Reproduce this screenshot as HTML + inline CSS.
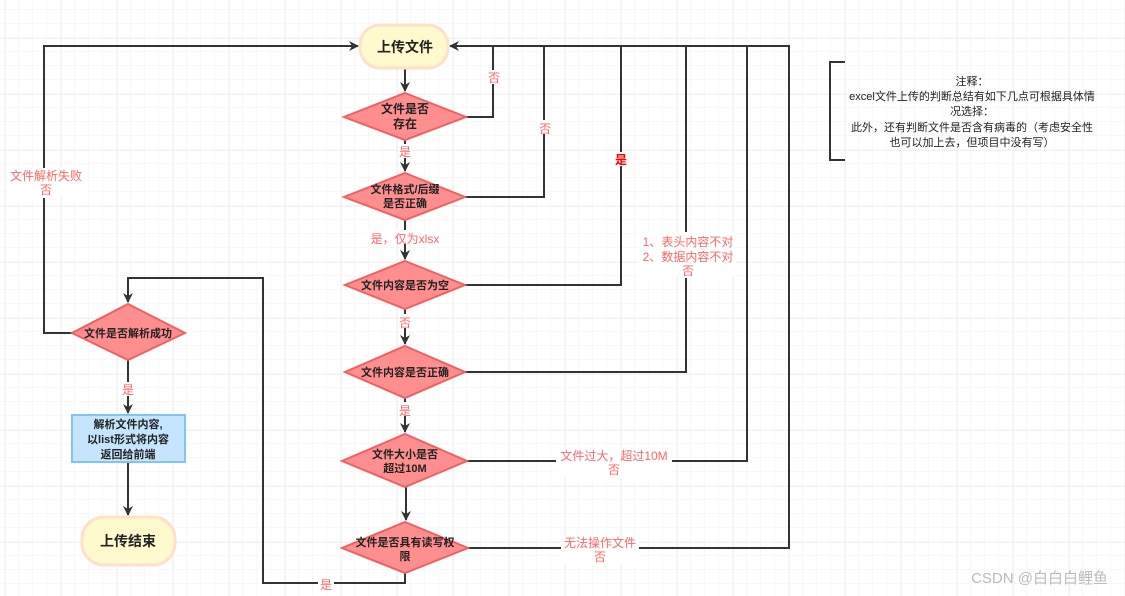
<!DOCTYPE html>
<html><head><meta charset="utf-8"><style>
html,body{margin:0;padding:0;background:#fff;}
svg{display:block;}
text{font-family:"Liberation Sans","Noto Sans CJK SC",sans-serif;}
</style></head><body>
<svg width="1125" height="596" xmlns="http://www.w3.org/2000/svg">
<defs>
<pattern id="minor" x="5" y="10" width="14" height="14" patternUnits="userSpaceOnUse"><path d="M14 0V14M0 14H14" fill="none" stroke="#f2f2f2" stroke-width="1"/></pattern>
<pattern id="major" x="5" y="38" width="56" height="56" patternUnits="userSpaceOnUse"><path d="M0 0V56M0 0H56" fill="none" stroke="#e6e6e6" stroke-width="1"/></pattern>
<marker id="a" markerWidth="10" markerHeight="10" refX="9" refY="5" orient="auto" markerUnits="userSpaceOnUse"><path d="M0,0 L10,5 L0,10 L3,5 z" fill="#333"/></marker>
</defs>
<rect width="1125" height="596" fill="url(#minor)"/>
<rect width="1125" height="596" fill="url(#major)"/>
<g fill="none" stroke="#333" stroke-width="2">
<path d="M405 68V91" marker-end="url(#a)"/>
<path d="M405 140V171" marker-end="url(#a)"/>
<path d="M405 220V259" marker-end="url(#a)"/>
<path d="M405 309V344" marker-end="url(#a)"/>
<path d="M405 398V432" marker-end="url(#a)"/>
<path d="M406 487V520" marker-end="url(#a)"/>
<path d="M466 117H493V46"/>
<path d="M465 197H544V46"/>
<path d="M465 285H621V46"/>
<path d="M465 372H686V46"/>
<path d="M467 461H747V46"/>
<path d="M468 548H789V46H450" marker-end="url(#a)"/>
<path d="M72 333H44V46H358" marker-end="url(#a)"/>
<path d="M405 573V583H263V278H128V302" marker-end="url(#a)"/>
<path d="M128 360V413" marker-end="url(#a)"/>
<path d="M128 462V515" marker-end="url(#a)"/>
<path d="M845 62H830V160H845"/>
</g>
<rect x="360" y="25" width="88" height="43" rx="20" fill="#fffacd" stroke="#ffe0c8" stroke-width="3"/>
<rect x="82" y="517" width="93" height="48" rx="22" fill="#fffacd" stroke="#ffe0c8" stroke-width="3"/>
<rect x="72" y="415" width="113" height="47" fill="#c5e5ff" stroke="#7fc4f5" stroke-width="2"/>
<g fill="#ff8f8f" stroke="#f06060" stroke-width="2">
<polygon points="405,93 466,117 405,140 344,117"/>
<polygon points="405,173 465,197 405,220 344,197"/>
<polygon points="405,261 465,285 405,309 345,285"/>
<polygon points="405,346 465,372 405,398 345,372"/>
<polygon points="405,434 467,461 405,487 342,461"/>
<polygon points="405,522 468,548 405,573 342,548"/>
<polygon points="128,304 185,333 128,360 72,333"/>
</g>
<g font-size="12" font-weight="bold" fill="#222" text-anchor="middle">
<text x="405" y="52" font-size="14">上传文件</text>
<text x="128" y="546" font-size="14">上传结束</text>
<text x="405" y="113">文件是否</text><text x="405" y="128">存在</text>
<text x="405" y="193" font-size="11">文件格式/后缀</text><text x="405" y="207" font-size="11">是否正确</text>
<text x="405" y="289" font-size="11">文件内容是否为空</text>
<text x="405" y="376" font-size="11">文件内容是否正确</text>
<text x="405" y="458" font-size="11">文件大小是否</text><text x="405" y="472" font-size="11">超过10M</text>
<text x="405" y="546" font-size="11">文件是否具有读写权</text><text x="405" y="560" font-size="11">限</text>
<text x="128" y="337" font-size="11">文件是否解析成功</text>
<text x="128" y="428" font-size="11">解析文件内容,</text>
<text x="128" y="443" font-size="11">以list形式将内容</text>
<text x="128" y="458" font-size="11">返回给前端</text>
</g>
<g font-size="12" fill="#ff6666" text-anchor="middle">
<rect x="486" y="70" width="14" height="14" fill="#fff"/><text x="494" y="82">否</text>
<rect x="537" y="120" width="14" height="14" fill="#fff"/><text x="545" y="133">否</text>
<rect x="612" y="152" width="18" height="14" fill="#fff"/><text x="621" y="164" fill="#f00" font-weight="bold">是</text>
<rect x="638" y="232" width="98" height="46" fill="#fff"/>
<text x="688" y="246">1、表头内容不对</text><text x="688" y="261">2、数据内容不对</text><text x="688" y="275">否</text>
<rect x="556" y="448" width="116" height="30" fill="#fff"/>
<text x="614" y="460">文件过大，超过10M</text><text x="614" y="474">否</text>
<rect x="561" y="535" width="78" height="30" fill="#fff"/>
<text x="600" y="547">无法操作文件</text><text x="600" y="561">否</text>
<rect x="398" y="144" width="14" height="14" fill="#fff"/><text x="405" y="156">是</text>
<rect x="366" y="230" width="78" height="14" fill="#fff"/><text x="405" y="243">是，仅为xlsx</text>
<rect x="398" y="314" width="14" height="14" fill="#fff"/><text x="405" y="327">否</text>
<rect x="398" y="402" width="14" height="14" fill="#fff"/><text x="405" y="415">是</text>
<rect x="121" y="382" width="14" height="14" fill="#fff"/><text x="128" y="394">是</text>
<rect x="318" y="577" width="16" height="14" fill="#fff"/><text x="326" y="589">是</text>
<rect x="6" y="168" width="82" height="30" fill="#fff"/>
<text x="46" y="180">文件解析失败</text><text x="46" y="194">否</text>
</g>
<g font-size="11" fill="#222" text-anchor="middle">
<text x="972" y="85">注释：</text>
<text x="972" y="100">excel文件上传的判断总结有如下几点可根据具体情</text>
<text x="972" y="115">况选择：</text>
<text x="972" y="131">此外，还有判断文件是否含有病毒的（考虑安全性</text>
<text x="972" y="146">也可以加上去，但项目中没有写）</text>
</g>
<text x="1108" y="583" font-size="15" fill="#bbb" text-anchor="end">CSDN @白白白鲤鱼</text>
</svg>
</body></html>
